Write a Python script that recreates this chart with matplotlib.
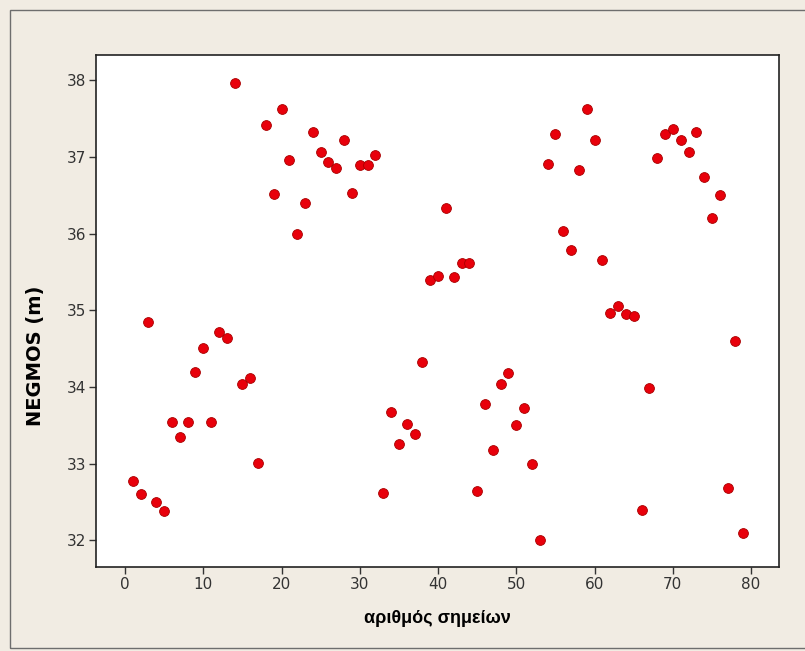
import matplotlib
matplotlib.use('Agg')
import matplotlib.pyplot as plt
from matplotlib.patches import Rectangle

# point number and elevation (m)
point_no = list(range(1, 80))
elev = [32.77, 32.60, 34.84, 32.50, 32.38, 33.54, 33.34, 33.54, 34.20, 34.51,
        33.54, 34.71, 34.64, 37.97, 34.04, 34.11, 33.01, 37.42, 36.52, 37.62,
        36.96, 35.99, 36.40, 37.33, 37.06, 36.93, 36.85, 37.22, 36.53, 36.89,
        36.89, 37.02, 32.62, 33.67, 33.25, 33.52, 33.39, 34.32, 35.39, 35.45,
        36.34, 35.43, 35.62, 35.62, 32.64, 33.78, 33.17, 34.04, 34.18, 33.50,
        33.72, 32.99, 32.00, 36.91, 37.30, 36.03, 35.79, 36.83, 37.62, 37.22,
        35.66, 34.97, 35.06, 34.95, 34.93, 32.40, 33.98, 36.98, 37.30, 37.36,
        37.22, 37.06, 37.33, 36.74, 36.20, 36.50, 32.68, 34.60, 32.09]

xticks = [0, 10, 20, 30, 40, 50, 60, 70, 80]
yticks = [32, 33, 34, 35, 36, 37, 38]

bg = '#f1ece3'
fig = plt.figure(figsize=(8.05, 6.51), dpi=100, facecolor=bg)
# window border
fig.patches.append(Rectangle((10 / 805, 3 / 651), 1.2, 638 / 651, transform=fig.transFigure,
                             fill=False, edgecolor='#6e6e6e', linewidth=1.0))

ax = fig.add_axes([96 / 805, 84 / 651, 683.3 / 805, 512 / 651])
ax.set_facecolor('white')
ax.scatter(point_no, elev, s=50, color='#e8000b', edgecolors='#a80000', linewidths=0.6, zorder=3)

ax.set_xlim(-3.7, 83.6)
ax.set_ylim(31.65, 38.33)
ax.set_xticks(xticks)
ax.set_yticks(yticks)
ax.tick_params(direction='out', length=5, width=1, color='#333333', labelsize=11,
               labelcolor='#333333', pad=2)
for s in ax.spines.values():
    s.set_color('#222222')
    s.set_linewidth(1.2)

ax.set_xlabel('αριθμός σημείων', fontsize=13, fontweight='bold',
              family=['Liberation Sans', 'DejaVu Sans'])
ax.xaxis.set_label_coords(0.5, -0.084)
ax.set_ylabel('NEGMOS (m)', fontsize=14, fontweight='bold', family='DejaVu Sans')
ax.yaxis.set_label_coords(-0.075, 0.412)

fig.savefig('out.png', dpi=100, facecolor=bg)
